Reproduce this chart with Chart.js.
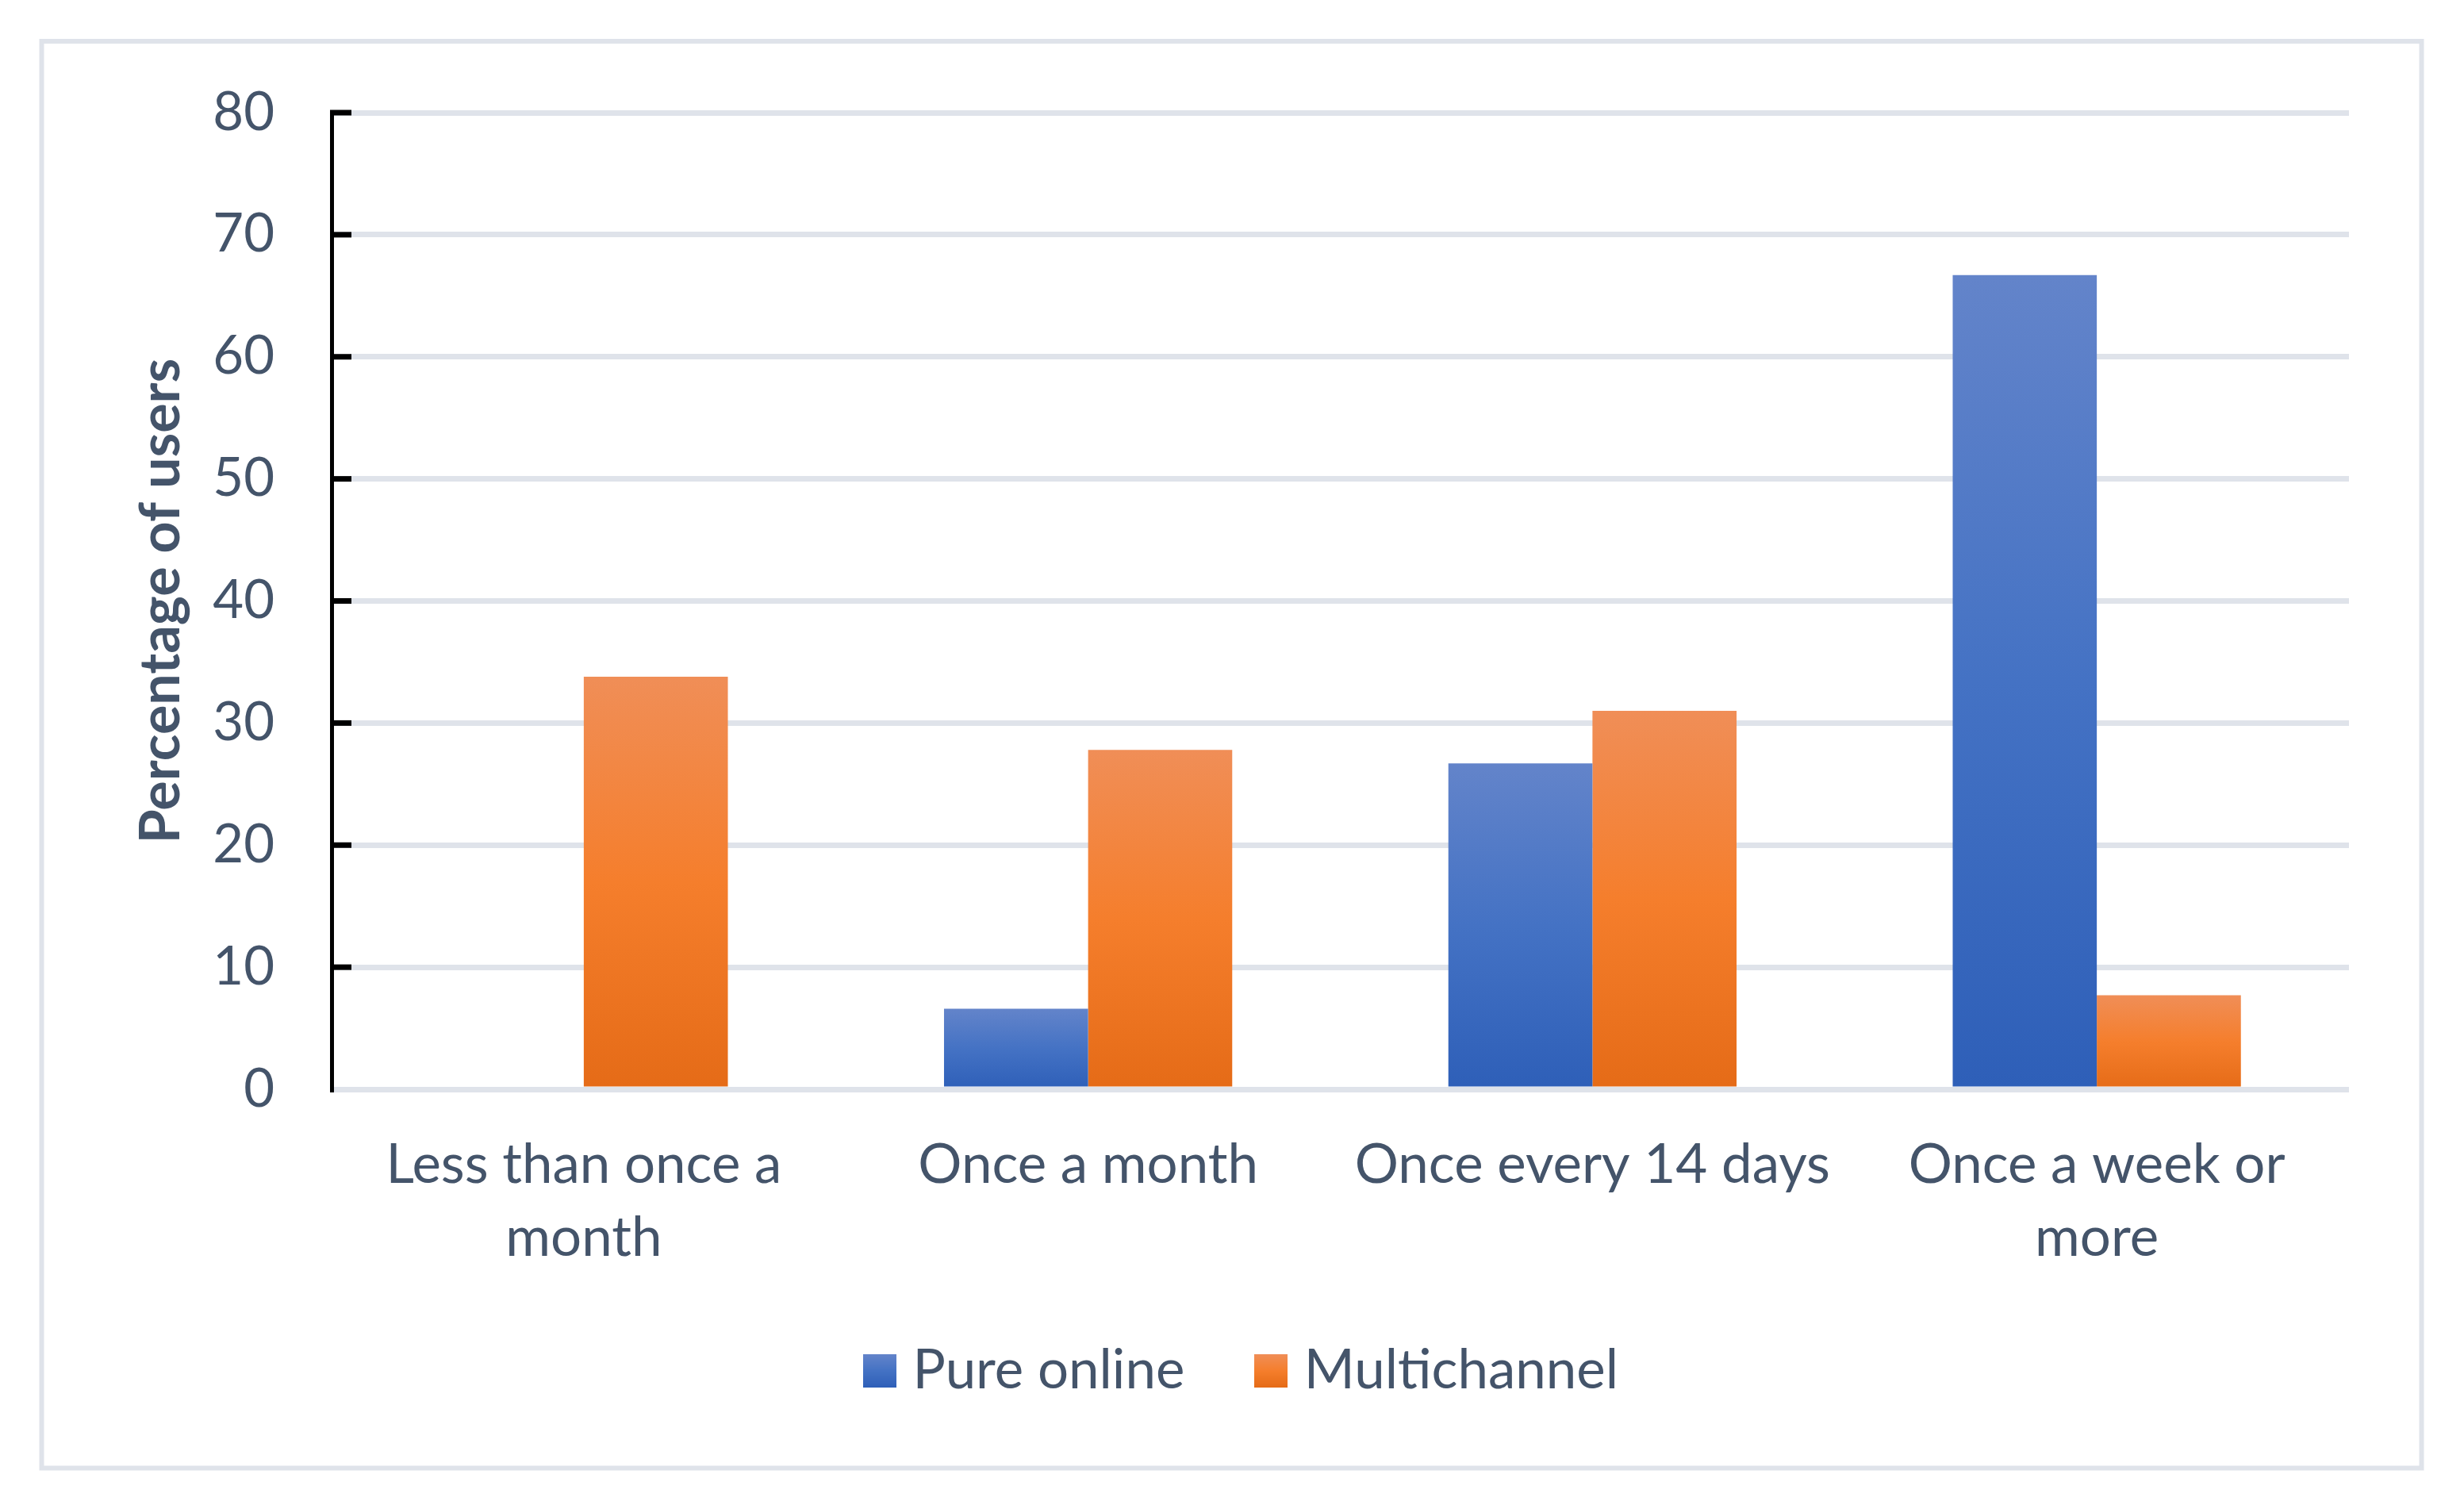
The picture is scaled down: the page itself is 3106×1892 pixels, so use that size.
<!DOCTYPE html>
<html><head><meta charset="utf-8">
<script src="https://cdn.jsdelivr.net/npm/chart.js@4.4.1/dist/chart.umd.min.js"></script>
<style>html,body{margin:0;padding:0;background:#fff;overflow:hidden}canvas{display:block}</style>
</head><body>
<canvas id="c" width="3106" height="1892"></canvas>
<script>
// ---- data ----
const categories = [["Less than once a", "month"], "Once a month", "Once every 14 days", ["Once a week or", "more"]];
const seriesNames = ["Pure online", "Multichannel"];
const pureOnline = [0, 6.6, 26.7, 66.7];
const multichannel = [33.8, 27.8, 31.0, 7.7];
const yTicks = [0, 10, 20, 30, 40, 50, 60, 70, 80];
const yTitle = "Percentage of users";

// ---- styles ----
const blueStops = ["#6384ca", "#4472c4", "#2e5fb8"];
const orangeStops = ["#f08e57", "#f57e2c", "#e56b17"];
const textColor = "#44546a";
const gridColor = "#dfe3ea";
const FONT = "Lato";

function barGradient(stops) {
  return (ctx) => {
    const chart = ctx.chart;
    if (!chart.chartArea || ctx.type !== 'data') return stops[1];
    const ys = chart.scales.y;
    const top = ys.getPixelForValue(ctx.raw);
    const bot = ys.getPixelForValue(0);
    if (!isFinite(top) || Math.abs(bot - top) < 1) return stops[1];
    const g = chart.ctx.createLinearGradient(0, top, 0, bot);
    g.addColorStop(0, stops[0]);
    g.addColorStop(0.5, stops[1]);
    g.addColorStop(1, stops[2]);
    return g;
  };
}
function makeIcon(stops) {
  const cv = document.createElement('canvas');
  cv.width = 42; cv.height = 42;
  const c = cv.getContext('2d');
  const g = c.createLinearGradient(0, 0, 0, 42);
  g.addColorStop(0, stops[0]); g.addColorStop(0.5, stops[1]); g.addColorStop(1, stops[2]);
  c.fillStyle = g; c.fillRect(0, 0, 42, 42);
  return cv;
}
const legendIcons = [makeIcon(blueStops), makeIcon(orangeStops)];

const framePlugin = {
  id: 'frame',
  beforeDraw(chart) {
    const c = chart.ctx;
    c.save();
    c.fillStyle = '#ffffff';
    c.fillRect(0, 0, chart.width, chart.height);
    c.strokeStyle = gridColor;
    c.lineWidth = 6;
    c.strokeRect(52.5, 52, 3000, 1798.5);
    c.restore();
  }
};
const innerTicks = {
  id: 'innerTicks',
  afterDraw(chart) {
    const ys = chart.scales.y;
    const c = chart.ctx;
    c.save();
    c.strokeStyle = '#000';
    c.lineWidth = 7;
    ys.ticks.forEach(t => {
      if (t.value === yTicks[0]) return;
      const py = ys.getPixelForValue(t.value);
      c.beginPath();
      c.moveTo(chart.chartArea.left - 2, py);
      c.lineTo(chart.chartArea.left + 25, py);
      c.stroke();
    });
    c.restore();
  }
};

new Chart(document.getElementById('c'), {
  type: 'bar',
  data: {
    labels: categories,
    datasets: [
      { label: seriesNames[0], data: pureOnline, backgroundColor: barGradient(blueStops), borderWidth: 0,
        categoryPercentage: 2 / 3.5, barPercentage: 1 },
      { label: seriesNames[1], data: multichannel, backgroundColor: barGradient(orangeStops), borderWidth: 0,
        categoryPercentage: 2 / 3.5, barPercentage: 1 }
    ]
  },
  options: {
    responsive: false,
    devicePixelRatio: 1,
    animation: false,
    layout: { padding: { left: 180, right: 145, top: 142, bottom: 119.5 } },
    plugins: {
      tooltip: { enabled: false },
      legend: {
        position: 'bottom',
        labels: {
          usePointStyle: true,
          pointStyleWidth: 15,
          padding: 101,
          color: textColor,
          font: { family: FONT, size: 69 },
          generateLabels: (chart) => Chart.defaults.plugins.legend.labels.generateLabels(chart)
            .map((it, i) => Object.assign(it, { pointStyle: legendIcons[i] }))
        }
      }
    },
    scales: {
      x: {
        grid: { display: false, drawTicks: false },
        border: { display: false },
        ticks: { color: textColor, padding: 50, maxRotation: 0, autoSkip: false,
                 font: { family: FONT, size: 69, lineHeight: 1.333 } },
        afterFit: (s) => { s.height = 219.5; }
      },
      y: {
        min: yTicks[0],
        max: yTicks[yTicks.length - 1],
        ticks: { stepSize: yTicks[1] - yTicks[0], color: textColor, padding: 72,
                 font: { family: FONT, size: 67 } },
        grid: { color: gridColor, lineWidth: 7, drawTicks: false },
        border: { display: true, color: '#000', width: 5 },
        title: { display: true, text: yTitle, color: textColor, padding: { top: 0, bottom: 0 },
                 font: { family: FONT, size: 70, weight: 'bold', lineHeight: '46px' } },
        afterFit: (s) => { s.width = 238; }
      }
    }
  },
  plugins: [framePlugin, innerTicks]
});
</script>
</body></html>
